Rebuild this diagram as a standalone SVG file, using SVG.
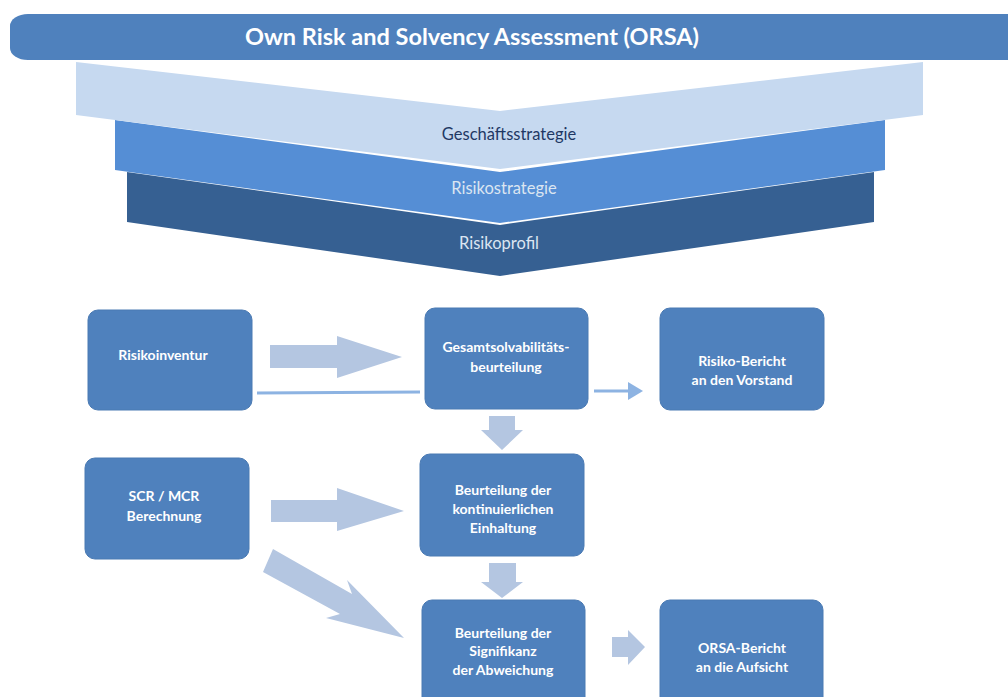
<svg xmlns="http://www.w3.org/2000/svg" width="1008" height="697" viewBox="0 0 1008 697">
<style>
.box{fill:#4f81bd;stroke:#4a7ab3;stroke-width:1}
.bt{font-family:Lato,"Liberation Sans",sans-serif;font-weight:bold;font-size:14px;fill:#ffffff;text-anchor:middle}
.ct{font-family:Lato,"Liberation Sans",sans-serif;font-size:16.5px;text-anchor:middle}
.ar{fill:#b4c6e1}
.ln{stroke:#8db3e2;stroke-width:3;fill:none}
</style>
<defs>
<marker id="ah" markerWidth="6" markerHeight="6" refX="4" refY="3" orient="auto" markerUnits="strokeWidth">
<path d="M0,0 L5,3 L0,6 z" fill="#8db3e2"/>
</marker>
</defs>
<rect width="1008" height="697" fill="#ffffff"/>
<g id="banner">
<rect x="10" y="14" width="1020" height="46" rx="18" ry="12" fill="#4f81bd"/>
<text x="472" y="45" font-family="Lato,'Liberation Sans',sans-serif" font-weight="bold" font-size="23.5" fill="#ffffff" text-anchor="middle">Own Risk and Solvency Assessment (ORSA)</text>
</g>
<g id="risikoprofil">
<polygon points="127,172 500,225 874,172 874,222 500,276 127,222" fill="#366092"/>
<text class="ct" x="499" y="249" fill="#dbe5f1">Risikoprofil</text>
</g>
<g id="risikostrategie">
<polygon points="115,120 500,172 885,120 885,170 500,223 115,170" fill="#558ed5"/>
<text class="ct" x="504" y="194" fill="#dbe5f1">Risikostrategie</text>
</g>
<g id="geschaeftsstrategie">
<polygon points="76,62 500,111 923,62 923,115 500,169 76,115" fill="#c6d9f0"/>
<text class="ct" x="509" y="140" fill="#1f3864">Geschäftsstrategie</text>
</g>
<g id="connectors">
<polygon class="ar" points="270,345 337,345 337,336 402,357 337,378 337,368 270,368"/>
<line class="ln" x1="257" y1="393" x2="420" y2="392"/>
<line class="ln" x1="594" y1="391" x2="640" y2="391" marker-end="url(#ah)"/>
<polygon class="ar" points="489,416 515,416 515,430 523,430 502,450 481,430 489,430"/>
<polygon class="ar" points="271,500 337,500 337,488 404,511 337,531 337,522 271,522"/>
<polygon class="ar" points="489,563 516,563 516,582 523,582 502,598 481,582 489,582"/>
<polygon class="ar" points="273,549 352,594 347,580 404,638 326,618 340,614 263,572"/>
<polygon class="ar" points="612,637 628,637 628,630 645,647 628,665 628,657 612,657"/>
</g>
<g id="n-risikoinventur">
<rect class="box" x="88" y="310" width="164" height="100" rx="10"/>
<text class="bt" x="163" y="360">Risikoinventur</text>
</g>
<g id="n-gesamt">
<rect class="box" x="425" y="308" width="163" height="101" rx="10"/>
<text class="bt" x="506" y="352">Gesamtsolvabilitäts-</text>
<text class="bt" x="506" y="372">beurteilung</text>
</g>
<g id="n-risikobericht">
<rect class="box" x="660" y="308" width="164" height="102" rx="10"/>
<text class="bt" x="742" y="366">Risiko-Bericht</text>
<text class="bt" x="742" y="385">an den Vorstand</text>
</g>
<g id="n-scr">
<rect class="box" x="85" y="458" width="164" height="101" rx="10"/>
<text class="bt" x="164" y="501">SCR / MCR</text>
<text class="bt" x="164" y="521">Berechnung</text>
</g>
<g id="n-kontinuierlich">
<rect class="box" x="420" y="454" width="164" height="102" rx="10"/>
<text class="bt" x="503" y="495">Beurteilung der</text>
<text class="bt" x="503" y="514">kontinuierlichen</text>
<text class="bt" x="503" y="533">Einhaltung</text>
</g>
<g id="n-signifikanz">
<rect class="box" x="422" y="600" width="163" height="110" rx="10"/>
<text class="bt" x="503" y="638">Beurteilung der</text>
<text class="bt" x="503" y="656">Signifikanz</text>
<text class="bt" x="503" y="675">der Abweichung</text>
</g>
<g id="n-orsabericht">
<rect class="box" x="660" y="600" width="163" height="110" rx="10"/>
<text class="bt" x="742" y="653">ORSA-Bericht</text>
<text class="bt" x="742" y="672">an die Aufsicht</text>
</g>
</svg>
